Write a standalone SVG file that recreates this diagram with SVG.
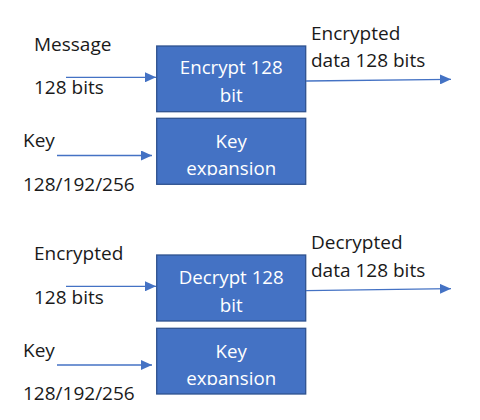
<svg xmlns="http://www.w3.org/2000/svg" width="480" height="420" viewBox="0 0 480 420">
<style>
.lbl{font-family:"Open Sans","Liberation Sans",sans-serif;font-size:19px;fill:#1a1a1a}
.box{fill:#4472C4;stroke:#2F528F;stroke-width:1.3}
.bt{font-family:"Open Sans","Liberation Sans",sans-serif;font-size:18.7px;fill:#ffffff;text-anchor:middle}
.con{stroke:#4472C4;stroke-width:1.3;fill:none;marker-end:url(#ah)}
</style>
<defs>
<marker id="ah" markerUnits="userSpaceOnUse" markerWidth="12" markerHeight="10" refX="11" refY="5" orient="auto">
<path d="M0,0 L11,5 L0,10 Z" fill="#4472C4"/>
</marker>
<clipPath id="c1"><rect x="156" y="118" width="150" height="57.5"/></clipPath>
<clipPath id="c2"><rect x="156" y="328" width="150" height="57"/></clipPath>
</defs>
<rect width="480" height="420" fill="#ffffff"/>
<g id="labels">
<text class="lbl" x="34" y="50.5">Message</text>
<text class="lbl" x="34" y="94.3">128 bits</text>
<text class="lbl" x="23" y="146.7">Key</text>
<text class="lbl" x="23" y="190.7">128/192/256</text>
<text class="lbl" x="311" y="40">Encrypted</text>
<text class="lbl" x="311" y="67">data 128 bits</text>
<text class="lbl" x="34" y="260">Encrypted</text>
<text class="lbl" x="34" y="304.3">128 bits</text>
<text class="lbl" x="23" y="356.7">Key</text>
<text class="lbl" x="23" y="400">128/192/256</text>
<text class="lbl" x="311" y="249.3">Decrypted</text>
<text class="lbl" x="311" y="276.7">data 128 bits</text>
</g>
<g id="encrypt">
<rect class="box" x="156.7" y="46" width="149" height="65.7"/>
<text class="bt" x="231.2" y="74.3">Encrypt 128</text>
<text class="bt" x="231.2" y="101.7">bit</text>
</g>
<g id="keyexp1">
<rect class="box" x="156.7" y="118.3" width="149" height="66"/>
<g clip-path="url(#c1)">
<text class="bt" x="231.2" y="148.3">Key</text>
<text class="bt" x="231.2" y="175">expansion</text>
</g>
</g>
<g id="decrypt">
<rect class="box" x="156.7" y="255" width="149" height="66"/>
<text class="bt" x="231.2" y="284.3">Decrypt 128</text>
<text class="bt" x="231.2" y="311.7">bit</text>
</g>
<g id="keyexp2">
<rect class="box" x="156.7" y="328.3" width="149" height="65.7"/>
<g clip-path="url(#c2)">
<text class="bt" x="231.2" y="358.3">Key</text>
<text class="bt" x="231.2" y="384.7">expansion</text>
</g>
</g>
<g id="connectors">
<line class="con" x1="66" y1="77.3" x2="156" y2="77.3"/>
<line class="con" x1="57" y1="155.5" x2="152" y2="155.5"/>
<line class="con" x1="306" y1="81" x2="451" y2="79.3"/>
<line class="con" x1="66" y1="286.3" x2="156" y2="286.3"/>
<line class="con" x1="57" y1="365" x2="152" y2="365"/>
<line class="con" x1="306" y1="290.7" x2="451" y2="288.7"/>
</g>
</svg>
